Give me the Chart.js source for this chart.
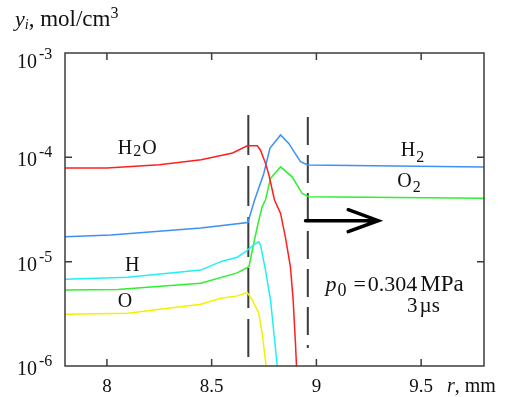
<!DOCTYPE html>
<html>
<head>
<meta charset="utf-8">
<script src="https://cdn.jsdelivr.net/npm/chart.js@4.4.0/dist/chart.umd.min.js"></script>
<style>
  html, body { margin: 0; padding: 0; background: #fff; }
  #wrap { width: 511px; height: 397px; position: relative; }
</style>
</head>
<body>
<div id="wrap"><canvas id="profiles"></canvas></div>
<script>
// radial profiles, r in mm, concentrations y_i in mol/cm3
const rH2O = [7.8, 8.0, 8.25, 8.45, 8.6, 8.67, 8.718, 8.733, 8.757, 8.773, 8.8, 8.829, 8.852, 8.876, 8.889, 8.9, 8.905];
const yH2O = [7.9e-5, 7.9e-5, 8.5e-5, 9.5e-5, 1.1e-4, 1.29e-4, 1.29e-4, 1.17e-4, 8.8e-5, 6.8e-5, 3.9e-5, 2.9e-5, 1.72e-5, 8.9e-6, 4.3e-6, 1.66e-6, 1.0e-6];

const rH2 = [7.8, 8.019, 8.448, 8.673, 8.705, 8.749, 8.778, 8.829, 8.868, 8.924, 8.959, 9.8];
const yH2 = [1.73e-5, 1.8e-5, 2.1e-5, 2.37e-5, 3.9e-5, 7.0e-5, 1.22e-4, 1.64e-4, 1.36e-4, 9.1e-5, 8.45e-5, 8.1e-5];

const rH = [7.8, 8.099, 8.448, 8.543, 8.622, 8.662, 8.701, 8.725, 8.733, 8.757, 8.781, 8.797, 8.813];
const yH = [6.8e-6, 7.1e-6, 8.3e-6, 1.0e-5, 1.1e-5, 1.25e-5, 1.45e-5, 1.55e-5, 1.45e-5, 8.3e-6, 4.3e-6, 2.07e-6, 1.0e-6];

const rO2 = [7.8, 8.051, 8.448, 8.622, 8.678, 8.701, 8.718, 8.741, 8.757, 8.781, 8.829, 8.884, 8.932, 8.963, 9.8];
const yO2 = [5.35e-6, 5.4e-6, 6.2e-6, 7.8e-6, 8.95e-6, 1.5e-5, 2.16e-5, 3.37e-5, 3.9e-5, 6.3e-5, 8.1e-5, 6.5e-5, 4.5e-5, 4.2e-5, 4.05e-5];

const rO = [7.8, 8.099, 8.448, 8.543, 8.622, 8.67, 8.694, 8.725, 8.741, 8.76];
const yO = [3.13e-6, 3.2e-6, 3.9e-6, 4.45e-6, 4.7e-6, 5.05e-6, 4.3e-6, 3.2e-6, 2.06e-6, 1.0e-6];

// dashed front markers and the propagation arrow
const frontR = [8.675, 8.959];
const frontTop = [2.55e-4, 2.44e-4];
const frontBottom = [1.22e-6, 1.49e-6];
const arrowR = [8.948, 9.295];
const arrowY = 2.47e-5;

const xTicks = [8, 8.5, 9, 9.5];
const xTickLabels = ["8", "8.5", "9", "9.5"];
const yTicks = [1e-3, 1e-4, 1e-5, 1e-6];
const yTickExp = ["-3", "-4", "-5", "-6"];

const zip = (xs, ys) => xs.map((x, i) => ({ x: x, y: ys[i] }));
const SERIF = '"Liberation Serif", "Times New Roman", serif';

function line(label, xs, ys, color) {
    return {
        label: label,
        data: zip(xs, ys),
        borderColor: color,
        borderWidth: 1.5,
        pointRadius: 0,
        tension: 0,
        fill: false,
    };
}

function front(i, dash) {
    return {
        label: "front" + i,
        data: [{ x: frontR[i], y: frontTop[i] }, { x: frontR[i], y: frontBottom[i] }],
        borderColor: "#3a3a3a",
        borderWidth: 2,
        borderDash: dash,
        pointRadius: 0,
        fill: false,
    };
}

// text made of runs, for sub- and superscripts
function runs(ctx, x, y, parts) {
    let cx = x;
    parts.forEach((p) => {
        ctx.font = (p.italic ? "italic " : "") + p.size + "px " + SERIF;
        cx += p.gap || 0;
        ctx.fillText(p.t, cx, y + (p.dy || 0));
        cx += ctx.measureText(p.t).width;
    });
}

const decor = {
    id: "decor",
    afterDraw(chart) {
        const ctx = chart.ctx;
        const a = chart.chartArea;
        const xs = chart.scales.x;
        const ys = chart.scales.y;
        const px = (v) => xs.getPixelForValue(v);
        const py = (v) => ys.getPixelForValue(v);

        ctx.save();
        // frame and inward ticks
        ctx.strokeStyle = "#3c3c3c";
        ctx.lineWidth = 1.5;
        ctx.strokeRect(a.left, a.top, a.right - a.left, a.bottom - a.top);
        ctx.beginPath();
        xTicks.forEach((t) => {
            const x = px(t);
            ctx.moveTo(x, a.bottom); ctx.lineTo(x, a.bottom - 7);
            ctx.moveTo(x, a.top); ctx.lineTo(x, a.top + 7);
        });
        yTicks.slice(1, 3).forEach((t) => {
            const y = py(t);
            ctx.moveTo(a.left, y); ctx.lineTo(a.left + 7, y);
            ctx.moveTo(a.right, y); ctx.lineTo(a.right - 7, y);
        });
        ctx.stroke();

        // arrow
        const ax0 = px(arrowR[0]), ax1 = px(arrowR[1]), ay = py(arrowY);
        ctx.strokeStyle = "#000";
        ctx.lineWidth = 3.5;
        ctx.lineCap = "round";
        ctx.beginPath();
        ctx.moveTo(ax0, ay); ctx.lineTo(ax1, ay);
        ctx.moveTo(ax1 - 30, ay - 11); ctx.lineTo(ax1, ay); ctx.lineTo(ax1 - 30, ay + 11);
        ctx.stroke();

        ctx.fillStyle = "#111";
        ctx.textBaseline = "alphabetic";
        ctx.textAlign = "left";

        // x tick labels
        xTickLabels.forEach((s, i) => {
            ctx.font = "19px " + SERIF;
            const w = ctx.measureText(s).width;
            ctx.fillText(s, px(xTicks[i]) - w / 2, 392);
        });
        runs(ctx, 447, 392, [
            { t: "r", size: 20, italic: true },
            { t: ", mm", size: 20 },
        ]);

        // y tick labels as powers of ten
        yTicks.forEach((t, i) => {
            const y = Math.min(Math.max(py(t), a.top + 6), a.bottom);
            runs(ctx, 17, y + 9, [
                { t: "10", size: 20 },
                { t: yTickExp[i], size: 16, dy: -9, gap: 2 },
            ]);
        });
        runs(ctx, 15, 26, [
            { t: "y", size: 22, italic: true },
            { t: "i", size: 14, italic: true, dy: 3 },
            { t: ", mol/cm", size: 23 },
            { t: "3", size: 16, dy: -8 },
        ]);

        // species names
        const sp = (r, v, parts) => runs(ctx, px(r), py(v), parts);
        sp(8.052, 1.076e-4, [{ t: "H", size: 20 }, { t: "2", size: 16, dy: 2, gap: 1 }, { t: "O", size: 20, gap: 1 }]);
        sp(9.403, 1.03e-4, [{ t: "H", size: 20 }, { t: "2", size: 16, dy: 6, gap: 1 }]);
        sp(9.386, 5.2e-5, [{ t: "O", size: 20 }, { t: "2", size: 16, dy: 5, gap: 1 }]);
        sp(8.086, 8.2e-6, [{ t: "H", size: 20 }]);
        sp(8.052, 3.67e-6, [{ t: "O", size: 20 }]);

        // conditions
        sp(9.043, 5.24e-6, [
            { t: "p", size: 22, italic: true },
            { t: "0", size: 18, dy: 5, gap: 1 },
            { t: "=", size: 22, gap: 7 },
            { t: "0.304", size: 22, gap: 2 },
            { t: "MPa", size: 23, gap: 3 },
        ]);
        sp(9.433, 3.3e-6, [{ t: "3", size: 21 }, { t: "\u00b5s", size: 21, gap: 2 }]);
        ctx.restore();
    },
};

const ctx = document.getElementById("profiles").getContext("2d");
new Chart(ctx, {
    type: "line",
    data: {
        datasets: [
            line("H2O", rH2O, yH2O, "#ff1f1f"),
            line("H2", rH2, yH2, "#3d91f5"),
            line("H", rH, yH, "#22f0f0"),
            line("O2", rO2, yO2, "#2ef02e"),
            line("O", rO, yO, "#f2f200"),
            front(0, [40, 11]),
            front(1, [28, 10]),
        ],
    },
    options: {
        responsive: true,
        maintainAspectRatio: false,
        animation: false,
        layout: { padding: { left: 65, right: 27, top: 53, bottom: 31 } },
        plugins: { legend: { display: false }, tooltip: { enabled: false } },
        scales: {
            x: { type: "linear", min: 7.8, max: 9.8, display: false },
            y: { type: "logarithmic", min: 1e-6, max: 1e-3, display: false },
        },
    },
    plugins: [decor],
});
</script>
</body>
</html>
